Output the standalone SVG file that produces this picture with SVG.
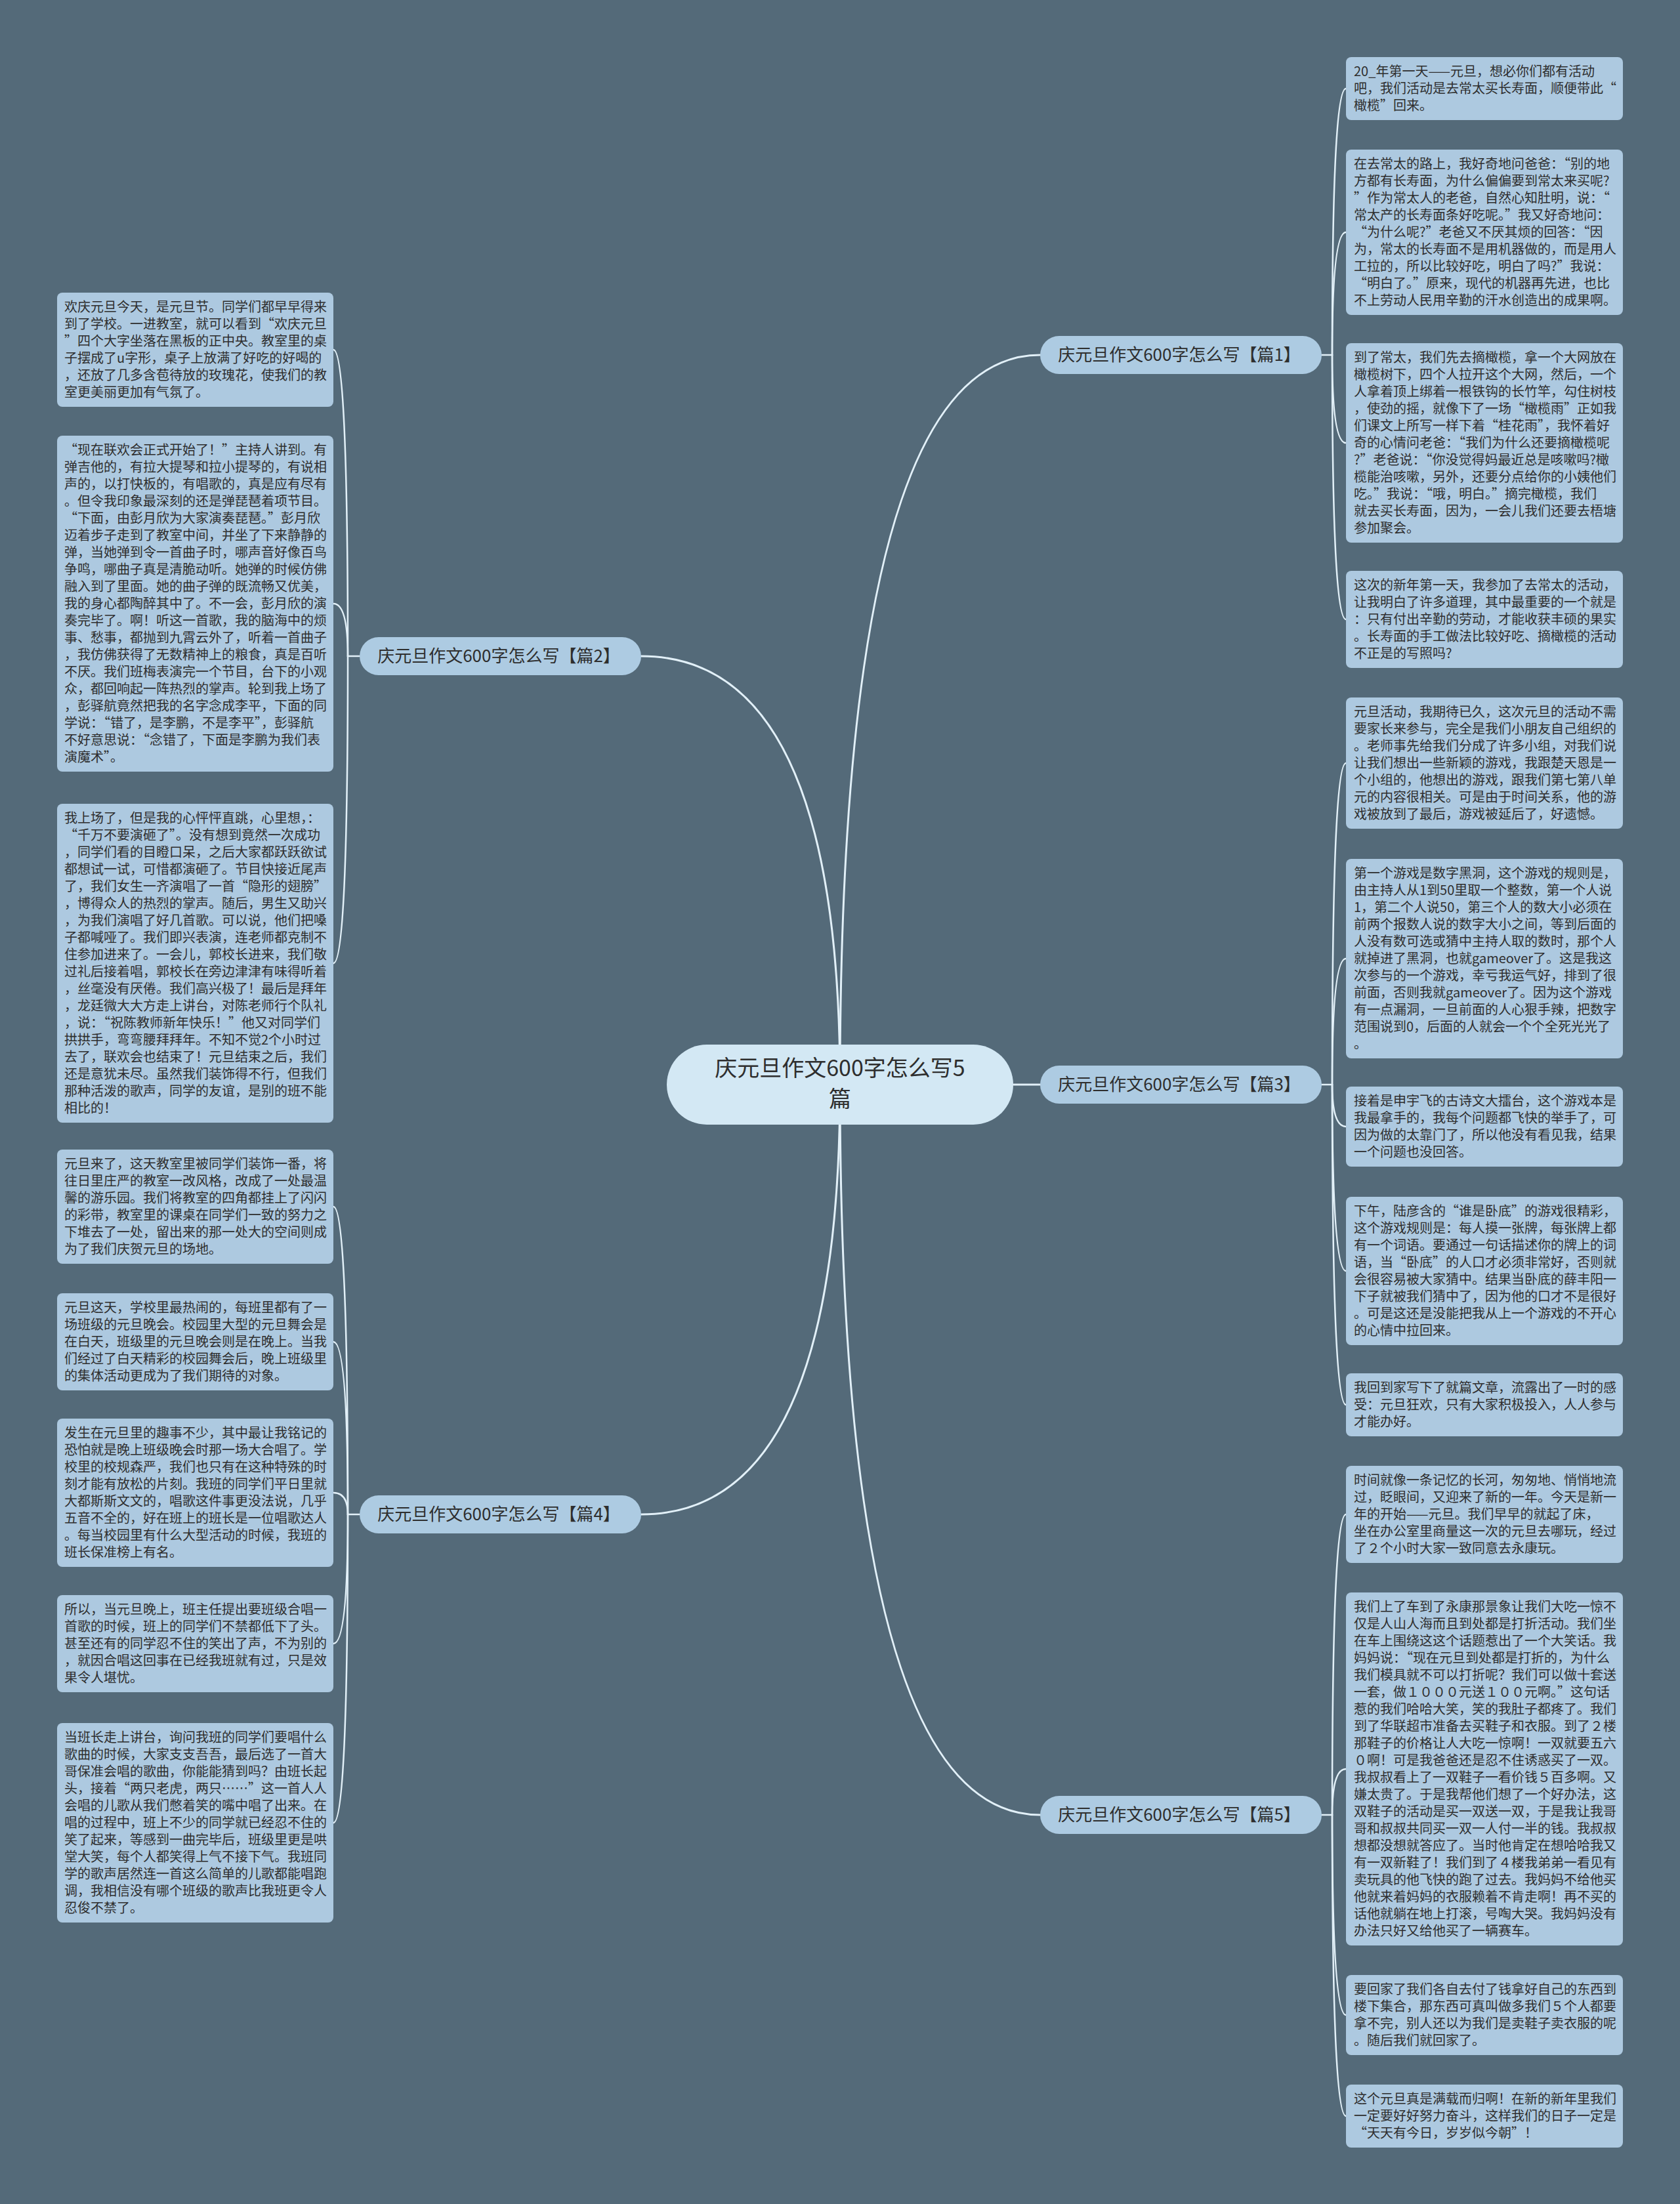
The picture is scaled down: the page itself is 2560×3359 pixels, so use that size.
<svg xmlns="http://www.w3.org/2000/svg" width="2560" height="3359" viewBox="0 0 2560 3359">
<style>
.bg{fill:#546A79}
.leaf{fill:#ADC9E0}
.br{fill:#ADCBE2}
.ctr{fill:#D3E8F4}
.t{font-family:"Noto Sans CJK SC","Noto Sans",sans-serif;font-size:20px;fill:#2E2E2E}
.bt{font-family:"Noto Sans CJK SC","Noto Sans",sans-serif;font-size:26px;fill:#2E2E2E;text-anchor:middle}
.ct{font-family:"Noto Sans CJK SC","Noto Sans",sans-serif;font-size:34px;fill:#2E2E2E;text-anchor:middle}
.c{fill:none;stroke:#E2F0F8;stroke-width:3;stroke-linecap:round}
.cl{fill:none;stroke:#E2F0F8;stroke-width:2.5;stroke-linecap:round}
</style>
<rect class="bg" x="0" y="0" width="2560" height="3359"/>

<g id="connectors">
<path class="c" d="M1280,1653 Q1280,541 1585,541"/>
<path class="c" d="M1280,1653 Q1280,1000 977,1000"/>
<path class="c" d="M1280,1653 Q1280,2308 977,2308"/>
<path class="c" d="M1280,1653 Q1280,2766 1585,2766"/>
<path class="c" d="M1544,1653 L1585,1653"/>
<path class="cl" d="M2014,541 L2030,541"/>
<path class="cl" d="M2030,541 Q2030,135 2051,135"/>
<path class="cl" d="M2030,541 Q2030,354 2051,354"/>
<path class="cl" d="M2030,541 Q2030,675 2051,675"/>
<path class="cl" d="M2030,541 Q2030,944 2051,944"/>
<path class="cl" d="M2014,1653 L2030,1653"/>
<path class="cl" d="M2030,1653 Q2030,1163 2051,1163"/>
<path class="cl" d="M2030,1653 Q2030,1461 2051,1461"/>
<path class="cl" d="M2030,1653 Q2030,1717 2051,1717"/>
<path class="cl" d="M2030,1653 Q2030,1937 2051,1937"/>
<path class="cl" d="M2030,1653 Q2030,2141 2051,2141"/>
<path class="cl" d="M2014,2766 L2030,2766"/>
<path class="cl" d="M2030,2766 Q2030,2308 2051,2308"/>
<path class="cl" d="M2030,2766 Q2030,2696 2051,2696"/>
<path class="cl" d="M2030,2766 Q2030,3071 2051,3071"/>
<path class="cl" d="M2030,2766 Q2030,3225 2051,3225"/>
<path class="cl" d="M548,1000 L530,1000"/>
<path class="cl" d="M530,1000 Q530,533 508,533"/>
<path class="cl" d="M530,1000 Q530,920 508,920"/>
<path class="cl" d="M530,1000 Q530,1468 508,1468"/>
<path class="cl" d="M548,2308 L530,2308"/>
<path class="cl" d="M530,2308 Q530,1839 508,1839"/>
<path class="cl" d="M530,2308 Q530,2045 508,2045"/>
<path class="cl" d="M530,2308 Q530,2275 508,2275"/>
<path class="cl" d="M530,2308 Q530,2505 508,2505"/>
<path class="cl" d="M530,2308 Q530,2778 508,2778"/>
</g>

<g id="center">
<rect class="ctr" x="1016" y="1592" width="528" height="122" rx="61"/>
<text class="ct"><tspan x="1280" y="1640">庆元旦作文600字怎么写5</tspan><tspan x="1280" y="1687">篇</tspan></text>
</g>

<g id="branch1">
<rect class="br" x="1585" y="512" width="429" height="58" rx="29"/>
<text class="bt" x="1797" y="550">庆元旦作文600字怎么写【篇1】</text>
</g>
<g id="branch3">
<rect class="br" x="1585" y="1624" width="429" height="58" rx="29"/>
<text class="bt" x="1797" y="1662">庆元旦作文600字怎么写【篇3】</text>
</g>
<g id="branch5">
<rect class="br" x="1585" y="2737" width="429" height="58" rx="29"/>
<text class="bt" x="1797" y="2775">庆元旦作文600字怎么写【篇5】</text>
</g>
<g id="branch2">
<rect class="br" x="548" y="971" width="429" height="58" rx="29"/>
<text class="bt" x="760" y="1009">庆元旦作文600字怎么写【篇2】</text>
</g>
<g id="branch4">
<rect class="br" x="548" y="2279" width="429" height="58" rx="29"/>
<text class="bt" x="760" y="2317">庆元旦作文600字怎么写【篇4】</text>
</g>

<g id="r1a">
<rect class="leaf" x="2051" y="87" width="422" height="96" rx="8"/>
<text class="t"><tspan x="2063" y="116">20_年第一天——元旦，想必你们都有活动</tspan><tspan x="2063" dy="26">吧，我们活动是去常太买长寿面，顺便带此“</tspan><tspan x="2063" dy="26">橄榄”回来。</tspan></text>
</g>
<g id="r1b">
<rect class="leaf" x="2051" y="228" width="422" height="252" rx="8"/>
<text class="t"><tspan x="2063" y="257">在去常太的路上，我好奇地问爸爸：“别的地</tspan><tspan x="2063" dy="26">方都有长寿面，为什么偏偏要到常太来买呢?</tspan><tspan x="2063" dy="26">”作为常太人的老爸，自然心知肚明，说：“</tspan><tspan x="2063" dy="26">常太产的长寿面条好吃呢。”我又好奇地问：</tspan><tspan x="2063" dy="26">“为什么呢?”老爸又不厌其烦的回答：“因</tspan><tspan x="2063" dy="26">为，常太的长寿面不是用机器做的，而是用人</tspan><tspan x="2063" dy="26">工拉的，所以比较好吃，明白了吗?”我说：</tspan><tspan x="2063" dy="26">“明白了。”原来，现代的机器再先进，也比</tspan><tspan x="2063" dy="26">不上劳动人民用辛勤的汗水创造出的成果啊。</tspan></text>
</g>
<g id="r1c">
<rect class="leaf" x="2051" y="523" width="422" height="304" rx="8"/>
<text class="t"><tspan x="2063" y="552">到了常太，我们先去摘橄榄，拿一个大网放在</tspan><tspan x="2063" dy="26">橄榄树下，四个人拉开这个大网，然后，一个</tspan><tspan x="2063" dy="26">人拿着顶上绑着一根铁钩的长竹竿，勾住树枝</tspan><tspan x="2063" dy="26">，使劲的摇，就像下了一场“橄榄雨”正如我</tspan><tspan x="2063" dy="26">们课文上所写一样下着“桂花雨”，我怀着好</tspan><tspan x="2063" dy="26">奇的心情问老爸：“我们为什么还要摘橄榄呢</tspan><tspan x="2063" dy="26">?”老爸说：“你没觉得妈最近总是咳嗽吗?橄</tspan><tspan x="2063" dy="26">榄能治咳嗽，另外，还要分点给你的小姨他们</tspan><tspan x="2063" dy="26">吃。”我说：“哦，明白。”摘完橄榄，我们</tspan><tspan x="2063" dy="26">就去买长寿面，因为，一会儿我们还要去梧塘</tspan><tspan x="2063" dy="26">参加聚会。</tspan></text>
</g>
<g id="r1d">
<rect class="leaf" x="2051" y="870" width="422" height="148" rx="8"/>
<text class="t"><tspan x="2063" y="899">这次的新年第一天，我参加了去常太的活动，</tspan><tspan x="2063" dy="26">让我明白了许多道理，其中最重要的一个就是</tspan><tspan x="2063" dy="26">：只有付出辛勤的劳动，才能收获丰硕的果实</tspan><tspan x="2063" dy="26">。长寿面的手工做法比较好吃、摘橄榄的活动</tspan><tspan x="2063" dy="26">不正是的写照吗?</tspan></text>
</g>

<g id="r3a">
<rect class="leaf" x="2051" y="1063" width="422" height="200" rx="8"/>
<text class="t"><tspan x="2063" y="1092">元旦活动，我期待已久，这次元旦的活动不需</tspan><tspan x="2063" dy="26">要家长来参与，完全是我们小朋友自己组织的</tspan><tspan x="2063" dy="26">。老师事先给我们分成了许多小组，对我们说</tspan><tspan x="2063" dy="26">让我们想出一些新颖的游戏，我跟楚天恩是一</tspan><tspan x="2063" dy="26">个小组的，他想出的游戏，跟我们第七第八单</tspan><tspan x="2063" dy="26">元的内容很相关。可是由于时间关系，他的游</tspan><tspan x="2063" dy="26">戏被放到了最后，游戏被延后了，好遗憾。</tspan></text>
</g>
<g id="r3b">
<rect class="leaf" x="2051" y="1309" width="422" height="304" rx="8"/>
<text class="t"><tspan x="2063" y="1338">第一个游戏是数字黑洞，这个游戏的规则是，</tspan><tspan x="2063" dy="26">由主持人从1到50里取一个整数，第一个人说</tspan><tspan x="2063" dy="26">1，第二个人说50，第三个人的数大小必须在</tspan><tspan x="2063" dy="26">前两个报数人说的数字大小之间，等到后面的</tspan><tspan x="2063" dy="26">人没有数可选或猜中主持人取的数时，那个人</tspan><tspan x="2063" dy="26">就掉进了黑洞，也就gameover了。这是我这</tspan><tspan x="2063" dy="26">次参与的一个游戏，幸亏我运气好，排到了很</tspan><tspan x="2063" dy="26">前面，否则我就gameover了。因为这个游戏</tspan><tspan x="2063" dy="26">有一点漏洞，一旦前面的人心狠手辣，把数字</tspan><tspan x="2063" dy="26">范围说到0，后面的人就会一个个全死光光了</tspan><tspan x="2063" dy="26">。</tspan></text>
</g>
<g id="r3c">
<rect class="leaf" x="2051" y="1656" width="422" height="122" rx="8"/>
<text class="t"><tspan x="2063" y="1685">接着是申宇飞的古诗文大擂台，这个游戏本是</tspan><tspan x="2063" dy="26">我最拿手的，我每个问题都飞快的举手了，可</tspan><tspan x="2063" dy="26">因为做的太靠门了，所以他没有看见我，结果</tspan><tspan x="2063" dy="26">一个问题也没回答。</tspan></text>
</g>
<g id="r3d">
<rect class="leaf" x="2051" y="1824" width="422" height="226" rx="8"/>
<text class="t"><tspan x="2063" y="1853">下午，陆彦含的“谁是卧底”的游戏很精彩，</tspan><tspan x="2063" dy="26">这个游戏规则是：每人摸一张牌，每张牌上都</tspan><tspan x="2063" dy="26">有一个词语。要通过一句话描述你的牌上的词</tspan><tspan x="2063" dy="26">语，当“卧底”的人口才必须非常好，否则就</tspan><tspan x="2063" dy="26">会很容易被大家猜中。结果当卧底的薛丰阳一</tspan><tspan x="2063" dy="26">下子就被我们猜中了，因为他的口才不是很好</tspan><tspan x="2063" dy="26">。可是这还是没能把我从上一个游戏的不开心</tspan><tspan x="2063" dy="26">的心情中拉回来。</tspan></text>
</g>
<g id="r3e">
<rect class="leaf" x="2051" y="2093" width="422" height="96" rx="8"/>
<text class="t"><tspan x="2063" y="2122">我回到家写下了就篇文章，流露出了一时的感</tspan><tspan x="2063" dy="26">受：元旦狂欢，只有大家积极投入，人人参与</tspan><tspan x="2063" dy="26">才能办好。</tspan></text>
</g>

<g id="r5a">
<rect class="leaf" x="2051" y="2234" width="422" height="148" rx="8"/>
<text class="t"><tspan x="2063" y="2263">时间就像一条记忆的长河，匆匆地、悄悄地流</tspan><tspan x="2063" dy="26">过，眨眼间，又迎来了新的一年。今天是新一</tspan><tspan x="2063" dy="26">年的开始——元旦。我们早早的就起了床，</tspan><tspan x="2063" dy="26">坐在办公室里商量这一次的元旦去哪玩，经过</tspan><tspan x="2063" dy="26">了２个小时大家一致同意去永康玩。</tspan></text>
</g>
<g id="r5b">
<rect class="leaf" x="2051" y="2427" width="422" height="538" rx="8"/>
<text class="t"><tspan x="2063" y="2456">我们上了车到了永康那景象让我们大吃一惊不</tspan><tspan x="2063" dy="26">仅是人山人海而且到处都是打折活动。我们坐</tspan><tspan x="2063" dy="26">在车上围绕这这个话题惹出了一个大笑话。我</tspan><tspan x="2063" dy="26">妈妈说：“现在元旦到处都是打折的，为什么</tspan><tspan x="2063" dy="26">我们模具就不可以打折呢？我们可以做十套送</tspan><tspan x="2063" dy="26">一套，做１０００元送１００元啊。”这句话</tspan><tspan x="2063" dy="26">惹的我们哈哈大笑，笑的我肚子都疼了。我们</tspan><tspan x="2063" dy="26">到了华联超市准备去买鞋子和衣服。到了２楼</tspan><tspan x="2063" dy="26">那鞋子的价格让人大吃一惊啊！一双就要五六</tspan><tspan x="2063" dy="26">０啊！可是我爸爸还是忍不住诱惑买了一双。</tspan><tspan x="2063" dy="26">我叔叔看上了一双鞋子一看价钱５百多啊。又</tspan><tspan x="2063" dy="26">嫌太贵了。于是我帮他们想了一个好办法，这</tspan><tspan x="2063" dy="26">双鞋子的活动是买一双送一双，于是我让我哥</tspan><tspan x="2063" dy="26">哥和叔叔共同买一双一人付一半的钱。我叔叔</tspan><tspan x="2063" dy="26">想都没想就答应了。当时他肯定在想哈哈我又</tspan><tspan x="2063" dy="26">有一双新鞋了！我们到了４楼我弟弟一看见有</tspan><tspan x="2063" dy="26">卖玩具的他飞快的跑了过去。我妈妈不给他买</tspan><tspan x="2063" dy="26">他就来着妈妈的衣服赖着不肯走啊！再不买的</tspan><tspan x="2063" dy="26">话他就躺在地上打滚，号啕大哭。我妈妈没有</tspan><tspan x="2063" dy="26">办法只好又给他买了一辆赛车。</tspan></text>
</g>
<g id="r5c">
<rect class="leaf" x="2051" y="3010" width="422" height="122" rx="8"/>
<text class="t"><tspan x="2063" y="3039">要回家了我们各自去付了钱拿好自己的东西到</tspan><tspan x="2063" dy="26">楼下集合，那东西可真叫做多我们５个人都要</tspan><tspan x="2063" dy="26">拿不完，别人还以为我们是卖鞋子卖衣服的呢</tspan><tspan x="2063" dy="26">。随后我们就回家了。</tspan></text>
</g>
<g id="r5d">
<rect class="leaf" x="2051" y="3177" width="422" height="96" rx="8"/>
<text class="t"><tspan x="2063" y="3206">这个元旦真是满载而归啊！在新的新年里我们</tspan><tspan x="2063" dy="26">一定要好好努力奋斗，这样我们的日子一定是</tspan><tspan x="2063" dy="26">“天天有今日，岁岁似今朝”！</tspan></text>
</g>

<g id="l2a">
<rect class="leaf" x="87" y="446" width="421" height="174" rx="8"/>
<text class="t"><tspan x="98" y="475">欢庆元旦今天，是元旦节。同学们都早早得来</tspan><tspan x="98" dy="26">到了学校。一进教室，就可以看到“欢庆元旦</tspan><tspan x="98" dy="26">”四个大字坐落在黑板的正中央。教室里的桌</tspan><tspan x="98" dy="26">子摆成了u字形，桌子上放满了好吃的好喝的</tspan><tspan x="98" dy="26">，还放了几多含苞待放的玫瑰花，使我们的教</tspan><tspan x="98" dy="26">室更美丽更加有气氛了。</tspan></text>
</g>
<g id="l2b">
<rect class="leaf" x="87" y="664" width="421" height="512" rx="8"/>
<text class="t"><tspan x="98" y="693">“现在联欢会正式开始了！”主持人讲到。有</tspan><tspan x="98" dy="26">弹吉他的，有拉大提琴和拉小提琴的，有说相</tspan><tspan x="98" dy="26">声的，以打快板的，有唱歌的，真是应有尽有</tspan><tspan x="98" dy="26">。但令我印象最深刻的还是弹琵琶着项节目。</tspan><tspan x="98" dy="26">“下面，由彭月欣为大家演奏琵琶。”彭月欣</tspan><tspan x="98" dy="26">迈着步子走到了教室中间，并坐了下来静静的</tspan><tspan x="98" dy="26">弹，当她弹到令一首曲子时，哪声音好像百鸟</tspan><tspan x="98" dy="26">争鸣，哪曲子真是清脆动听。她弹的时候仿佛</tspan><tspan x="98" dy="26">融入到了里面。她的曲子弹的既流畅又优美，</tspan><tspan x="98" dy="26">我的身心都陶醉其中了。不一会，彭月欣的演</tspan><tspan x="98" dy="26">奏完毕了。啊！听这一首歌，我的脑海中的烦</tspan><tspan x="98" dy="26">事、愁事，都抛到九霄云外了，听着一首曲子</tspan><tspan x="98" dy="26">，我仿佛获得了无数精神上的粮食，真是百听</tspan><tspan x="98" dy="26">不厌。我们班梅表演完一个节目，台下的小观</tspan><tspan x="98" dy="26">众，都回响起一阵热烈的掌声。轮到我上场了</tspan><tspan x="98" dy="26">，彭驿航竟然把我的名字念成李平，下面的同</tspan><tspan x="98" dy="26">学说：“错了，是李鹏，不是李平”，彭驿航</tspan><tspan x="98" dy="26">不好意思说：“念错了，下面是李鹏为我们表</tspan><tspan x="98" dy="26">演魔术”。</tspan></text>
</g>
<g id="l2c">
<rect class="leaf" x="87" y="1225" width="421" height="486" rx="8"/>
<text class="t"><tspan x="98" y="1254">我上场了，但是我的心怦怦直跳，心里想，：</tspan><tspan x="98" dy="26">“千万不要演砸了”。没有想到竟然一次成功</tspan><tspan x="98" dy="26">，同学们看的目瞪口呆，之后大家都跃跃欲试</tspan><tspan x="98" dy="26">都想试一试，可惜都演砸了。节目快接近尾声</tspan><tspan x="98" dy="26">了，我们女生一齐演唱了一首“隐形的翅膀”</tspan><tspan x="98" dy="26">，博得众人的热烈的掌声。随后，男生又助兴</tspan><tspan x="98" dy="26">，为我们演唱了好几首歌。可以说，他们把嗓</tspan><tspan x="98" dy="26">子都喊哑了。我们即兴表演，连老师都克制不</tspan><tspan x="98" dy="26">住参加进来了。一会儿，郭校长进来，我们敬</tspan><tspan x="98" dy="26">过礼后接着唱，郭校长在旁边津津有味得听着</tspan><tspan x="98" dy="26">，丝毫没有厌倦。我们高兴极了！最后是拜年</tspan><tspan x="98" dy="26">，龙廷微大大方走上讲台，对陈老师行个队礼</tspan><tspan x="98" dy="26">，说：“祝陈教师新年快乐！”他又对同学们</tspan><tspan x="98" dy="26">拱拱手，弯弯腰拜拜年。不知不觉2个小时过</tspan><tspan x="98" dy="26">去了，联欢会也结束了！元旦结束之后，我们</tspan><tspan x="98" dy="26">还是意犹未尽。虽然我们装饰得不行，但我们</tspan><tspan x="98" dy="26">那种活泼的歌声，同学的友谊，是别的班不能</tspan><tspan x="98" dy="26">相比的！</tspan></text>
</g>

<g id="l4a">
<rect class="leaf" x="87" y="1752" width="421" height="174" rx="8"/>
<text class="t"><tspan x="98" y="1781">元旦来了，这天教室里被同学们装饰一番，将</tspan><tspan x="98" dy="26">往日里庄严的教室一改风格，改成了一处最温</tspan><tspan x="98" dy="26">馨的游乐园。我们将教室的四角都挂上了闪闪</tspan><tspan x="98" dy="26">的彩带，教室里的课桌在同学们一致的努力之</tspan><tspan x="98" dy="26">下堆去了一处，留出来的那一处大的空间则成</tspan><tspan x="98" dy="26">为了我们庆贺元旦的场地。</tspan></text>
</g>
<g id="l4b">
<rect class="leaf" x="87" y="1971" width="421" height="148" rx="8"/>
<text class="t"><tspan x="98" y="2000">元旦这天，学校里最热闹的，每班里都有了一</tspan><tspan x="98" dy="26">场班级的元旦晚会。校园里大型的元旦舞会是</tspan><tspan x="98" dy="26">在白天，班级里的元旦晚会则是在晚上。当我</tspan><tspan x="98" dy="26">们经过了白天精彩的校园舞会后，晚上班级里</tspan><tspan x="98" dy="26">的集体活动更成为了我们期待的对象。</tspan></text>
</g>
<g id="l4c">
<rect class="leaf" x="87" y="2162" width="421" height="226" rx="8"/>
<text class="t"><tspan x="98" y="2191">发生在元旦里的趣事不少，其中最让我铭记的</tspan><tspan x="98" dy="26">恐怕就是晚上班级晚会时那一场大合唱了。学</tspan><tspan x="98" dy="26">校里的校规森严，我们也只有在这种特殊的时</tspan><tspan x="98" dy="26">刻才能有放松的片刻。我班的同学们平日里就</tspan><tspan x="98" dy="26">大都斯斯文文的，唱歌这件事更没法说，几乎</tspan><tspan x="98" dy="26">五音不全的，好在班上的班长是一位唱歌达人</tspan><tspan x="98" dy="26">。每当校园里有什么大型活动的时候，我班的</tspan><tspan x="98" dy="26">班长保准榜上有名。</tspan></text>
</g>
<g id="l4d">
<rect class="leaf" x="87" y="2431" width="421" height="148" rx="8"/>
<text class="t"><tspan x="98" y="2460">所以，当元旦晚上，班主任提出要班级合唱一</tspan><tspan x="98" dy="26">首歌的时候，班上的同学们不禁都低下了头。</tspan><tspan x="98" dy="26">甚至还有的同学忍不住的笑出了声，不为别的</tspan><tspan x="98" dy="26">，就因合唱这回事在已经我班就有过，只是效</tspan><tspan x="98" dy="26">果令人堪忧。</tspan></text>
</g>
<g id="l4e">
<rect class="leaf" x="87" y="2626" width="421" height="304" rx="8"/>
<text class="t"><tspan x="98" y="2655">当班长走上讲台，询问我班的同学们要唱什么</tspan><tspan x="98" dy="26">歌曲的时候，大家支支吾吾，最后选了一首大</tspan><tspan x="98" dy="26">哥保准会唱的歌曲，你能能猜到吗？由班长起</tspan><tspan x="98" dy="26">头，接着“两只老虎，两只……”这一首人人</tspan><tspan x="98" dy="26">会唱的儿歌从我们憋着笑的嘴中唱了出来。在</tspan><tspan x="98" dy="26">唱的过程中，班上不少的同学就已经忍不住的</tspan><tspan x="98" dy="26">笑了起来，等感到一曲完毕后，班级里更是哄</tspan><tspan x="98" dy="26">堂大笑，每个人都笑得上气不接下气。我班同</tspan><tspan x="98" dy="26">学的歌声居然连一首这么简单的儿歌都能唱跑</tspan><tspan x="98" dy="26">调，我相信没有哪个班级的歌声比我班更令人</tspan><tspan x="98" dy="26">忍俊不禁了。</tspan></text>
</g>
</svg>
